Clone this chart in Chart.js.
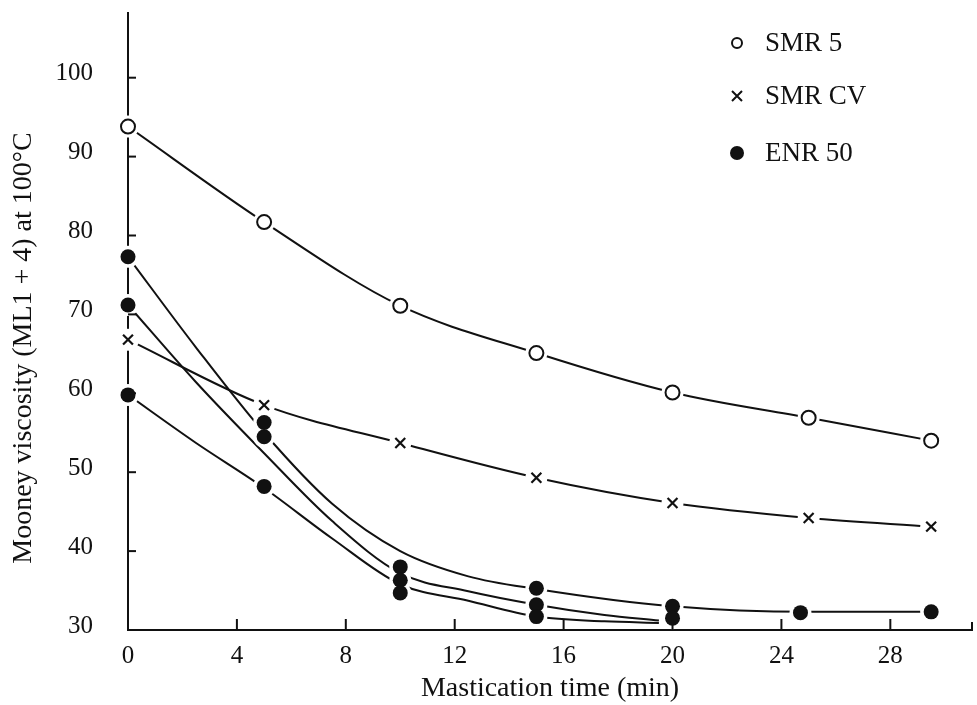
<!DOCTYPE html>
<html>
<head>
<meta charset="utf-8">
<script src="https://cdn.jsdelivr.net/npm/chart.js@4.4.1/dist/chart.umd.min.js"></script>
<style>
  html, body { margin: 0; padding: 0; background: #fff; }
  #wrap { width: 977px; height: 705px; }
</style>
</head>
<body>
<div id="wrap"><canvas id="viscosidad"></canvas></div>
<script>
// tiempos de masticación (min) y viscosidad Mooney
const tiempo = [0, 5, 10, 15, 20, 25, 29.5];
const smr5 = [93.8, 81.7, 71.1, 65.1, 60.1, 56.9, 54.0];
const smrCV = [66.8, 58.5, 53.7, 49.3, 46.1, 44.2, 43.1];

// ENR 50: puntos medidos (tres muestras superpuestas)
const enrTiempo = [0, 0, 0, 5, 5, 5, 10, 10, 10, 15, 15, 15, 20, 20, 24.7, 29.5];
const enrValor = [77.3, 71.2, 59.8, 56.3, 54.5, 48.2, 38.0, 36.3, 34.7, 35.3, 33.2, 31.7, 33.0, 31.5, 32.2, 32.3];

// ENR 50: curvas ajustadas
const curvaA_t = [0, 2.5, 5, 7.5, 10, 12.5, 15, 20, 25, 29.5];
const curvaA = [77.3, 65.8, 55.0, 46.0, 40.0, 36.8, 35.2, 33.0, 32.3, 32.3];
const curvaB_t = [0, 2.5, 5, 7.5, 10, 12.5, 15, 17.5, 19.5];
const curvaB = [71.2, 61.4, 52.4, 43.8, 37.2, 34.9, 33.2, 31.9, 31.2];
const curvaC_t = [0, 2.5, 5, 7.5, 10, 12.5, 15, 17.5, 19.5];
const curvaC = [59.8, 53.7, 48.0, 41.6, 35.8, 33.7, 31.7, 31.1, 30.9];

const nombres = ['SMR 5', 'SMR CV', 'ENR 50'];
const ticksX = [0, 4, 8, 12, 16, 20, 24, 28];
const ticksY = [30, 40, 50, 60, 70, 80, 90, 100];
const tituloY = 'Mooney viscosity (ML1 + 4) at 100°C';

const tinta = '#111';
const fuente = '"Liberation Serif", "Times New Roman", serif';

const pares = (xs, ys) => xs.map((x, i) => ({ x: x, y: ys[i] }));

const curva = (xs, ys) => ({
  type: 'line',
  data: pares(xs, ys),
  borderColor: tinta,
  borderWidth: 2,
  pointRadius: 0,
  cubicInterpolationMode: 'monotone',
  fill: false,
  order: 2
});

// halo blanco para cortar las líneas junto a cada marcador
const halo = pares(tiempo, smr5).concat(pares(tiempo, smrCV), pares(enrTiempo, enrValor));

// marcas internas de los ejes, título del eje Y y leyenda dentro del gráfico
const extras = {
  id: 'extras',
  afterDraw(chart) {
    const ctx = chart.ctx;
    const x = chart.scales.x, y = chart.scales.y;
    const area = chart.chartArea;
    ctx.save();
    ctx.strokeStyle = tinta;
    ctx.lineWidth = 2;
    ticksX.forEach(v => {
      if (v === 0) return;
      const px = x.getPixelForValue(v);
      ctx.beginPath();
      ctx.moveTo(px, area.bottom);
      ctx.lineTo(px, area.bottom - 11);
      ctx.stroke();
    });
    ctx.beginPath();
    ctx.moveTo(area.right, area.bottom);
    ctx.lineTo(area.right, area.bottom - 8);
    ctx.stroke();
    ticksY.forEach(v => {
      if (v === 30) return;
      const py = y.getPixelForValue(v);
      ctx.beginPath();
      ctx.moveTo(area.left, py);
      ctx.lineTo(area.left + 8, py);
      ctx.stroke();
    });

    // título del eje Y
    ctx.save();
    ctx.translate(24, 348);
    ctx.rotate(-Math.PI / 2);
    ctx.font = '28px ' + fuente;
    ctx.fillStyle = tinta;
    ctx.textAlign = 'center';
    ctx.textBaseline = 'middle';
    ctx.fillText(tituloY, 0, 0);
    ctx.restore();

    // leyenda
    const lx = 737, tx = 765;
    const ly = [43, 96, 153];
    ctx.font = '27px ' + fuente;
    ctx.fillStyle = tinta;
    ctx.textBaseline = 'middle';
    ctx.textAlign = 'left';
    nombres.forEach((n, i) => ctx.fillText(n, tx, ly[i] + 1));
    ctx.lineWidth = 2;
    ctx.beginPath();
    ctx.arc(lx, ly[0], 5, 0, Math.PI * 2);
    ctx.stroke();
    ctx.beginPath();
    ctx.moveTo(lx - 5, ly[1] - 5); ctx.lineTo(lx + 5, ly[1] + 5);
    ctx.moveTo(lx + 5, ly[1] - 5); ctx.lineTo(lx - 5, ly[1] + 5);
    ctx.stroke();
    ctx.beginPath();
    ctx.arc(lx, ly[2], 7, 0, Math.PI * 2);
    ctx.fill();
    ctx.restore();
  }
};

const ctx = document.getElementById('viscosidad').getContext('2d');
new Chart(ctx, {
  type: 'scatter',
  data: {
    datasets: [
      {
        label: nombres[0],
        data: pares(tiempo, smr5),
        pointStyle: 'circle',
        pointRadius: 7,
        pointBackgroundColor: '#fff',
        pointBorderColor: tinta,
        pointBorderWidth: 2,
        clip: false,
        order: 0
      },
      {
        label: nombres[1],
        data: pares(tiempo, smrCV),
        pointStyle: 'crossRot',
        pointRadius: 7,
        pointBorderColor: tinta,
        pointBorderWidth: 2.2,
        clip: false,
        order: 0
      },
      {
        label: nombres[2],
        data: pares(enrTiempo, enrValor),
        pointStyle: 'circle',
        pointRadius: 7.5,
        pointBackgroundColor: tinta,
        pointBorderColor: tinta,
        pointBorderWidth: 0,
        clip: false,
        order: 0
      },
      {
        label: 'halo',
        data: halo,
        pointStyle: 'circle',
        pointRadius: 11,
        pointBackgroundColor: '#fff',
        pointBorderWidth: 0,
        clip: false,
        order: 1
      },
      curva(tiempo, smr5),
      curva(tiempo, smrCV),
      curva(curvaA_t, curvaA),
      curva(curvaB_t, curvaB),
      curva(curvaC_t, curvaC)
    ]
  },
  options: {
    responsive: true,
    maintainAspectRatio: false,
    animation: false,
    layout: { autoPadding: false, padding: { left: 0, right: 5, top: 13, bottom: 0 } },
    plugins: {
      legend: { display: false },
      tooltip: { enabled: false }
    },
    scales: {
      x: {
        type: 'linear',
        min: 0,
        max: 31,
        z: 1,
        afterBuildTicks: s => { s.ticks = ticksX.map(v => ({ value: v })); },
        afterFit: s => { s.height = 75; s.paddingLeft = 0; s.paddingRight = 0; },
        grid: { drawOnChartArea: false, drawTicks: false, color: 'rgba(0,0,0,0)' },
        border: { color: tinta, width: 2 },
        ticks: { color: tinta, padding: 11, font: { family: fuente, size: 25 } },
        title: {
          display: true,
          text: 'Mastication time (min)',
          color: tinta,
          padding: { top: 0, bottom: 0 },
          font: { family: fuente, size: 28 }
        }
      },
      y: {
        type: 'linear',
        min: 30,
        max: 108.2,
        z: 1,
        afterBuildTicks: s => { s.ticks = ticksY.map(v => ({ value: v })); },
        afterFit: s => { s.width = 128; s.paddingTop = 0; s.paddingBottom = 0; },
        grid: { drawOnChartArea: false, drawTicks: false, color: 'rgba(0,0,0,0)' },
        border: { color: tinta, width: 2 },
        ticks: { color: tinta, padding: 35, labelOffset: -4, font: { family: fuente, size: 25 } },
        title: { display: false }
      }
    }
  },
  plugins: [extras]
});
</script>
</body>
</html>
